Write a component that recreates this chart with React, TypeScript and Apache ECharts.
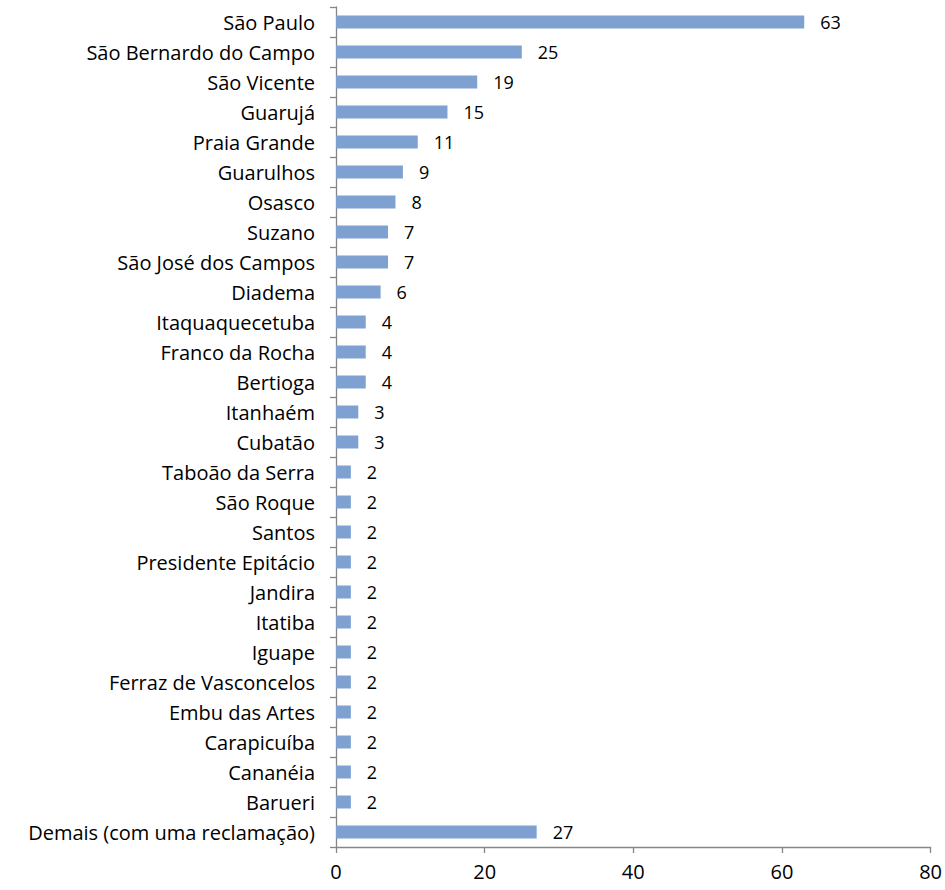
import React, { useEffect, useRef } from "react";
import * as echarts from "echarts";

const categories = [
  "São Paulo",
  "São Bernardo do Campo",
  "São Vicente",
  "Guarujá",
  "Praia Grande",
  "Guarulhos",
  "Osasco",
  "Suzano",
  "São José dos Campos",
  "Diadema",
  "Itaquaquecetuba",
  "Franco da Rocha",
  "Bertioga",
  "Itanhaém",
  "Cubatão",
  "Taboão da Serra",
  "São Roque",
  "Santos",
  "Presidente Epitácio",
  "Jandira",
  "Itatiba",
  "Iguape",
  "Ferraz de Vasconcelos",
  "Embu das Artes",
  "Carapicuíba",
  "Cananéia",
  "Barueri",
  "Demais (com uma reclamação)",
];

const values = [63, 25, 19, 15, 11, 9, 8, 7, 7, 6, 4, 4, 4, 3, 3, 2, 2, 2, 2, 2, 2, 2, 2, 2, 2, 2, 2, 27];

const xTicks = { min: 0, max: 80, interval: 20 };

export default function App() {
  const ref = useRef<HTMLDivElement>(null);
  useEffect(() => {
    if (!ref.current) return;
    const chart = echarts.init(ref.current, undefined, { renderer: "svg" });
    const font = "'Open Sans', sans-serif";
    chart.setOption({
      animation: false,
      textStyle: { fontFamily: font },
      grid: { left: 336, right: 12, top: 7, bottom: 43, containLabel: false },
      xAxis: {
        type: "value",
        min: xTicks.min,
        max: xTicks.max,
        interval: xTicks.interval,
        splitLine: { show: false },
        axisLine: { show: true, lineStyle: { color: "#868686", width: 1.3 } },
        axisTick: { show: true, length: 6, lineStyle: { color: "#868686", width: 1.3 } },
        axisLabel: { color: "#000", fontSize: 20, fontFamily: font, margin: 14 },
      },
      yAxis: {
        type: "category",
        inverse: true,
        data: categories,
        axisLine: { show: true, lineStyle: { color: "#868686", width: 1.3 } },
        axisTick: { show: true, length: 6, lineStyle: { color: "#868686", width: 1.3 } },
        axisLabel: { color: "#000", fontSize: 20, fontFamily: font, margin: 21 },
      },
      series: [
        {
          type: "bar",
          data: values,
          barWidth: 13,
          itemStyle: { color: "#7EA1D1" },
          label: {
            show: true,
            position: "right",
            distance: 16,
            color: "#000",
            fontSize: 18,
            fontFamily: font,
          },
        },
      ],
    });
    return () => chart.dispose();
  }, []);
  return (
    <div
      ref={ref}
      style={{ position: "absolute", left: 0, top: 0, width: 945, height: 890 }}
    />
  );
}
